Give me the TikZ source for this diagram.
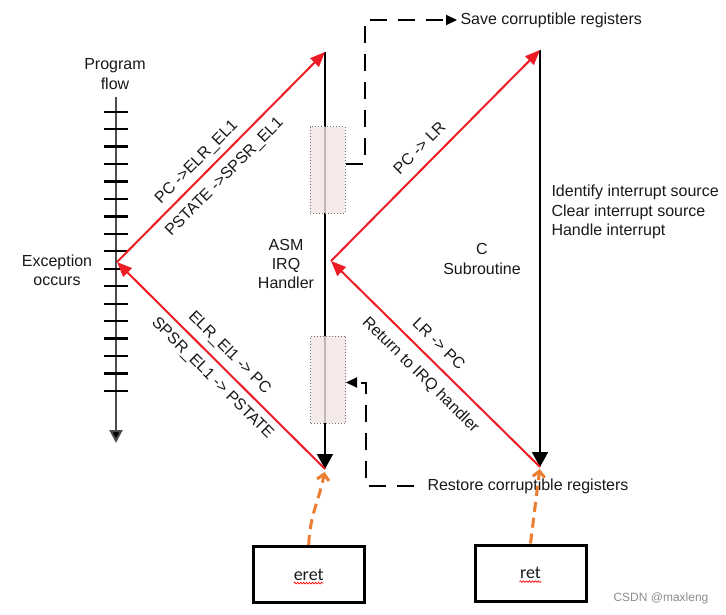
\documentclass[tikz,border=0pt]{standalone}
\usepackage{fontspec}
\setmainfont{Liberation Sans}
\newfontfamily\boxfont{Carlito}
\usetikzlibrary{calc,arrows.meta,positioning,decorations.pathmorphing}
\definecolor{FlowRed}{RGB}{237,28,36}
\definecolor{HintOrange}{RGB}{237,125,49}
\definecolor{StackPink}{RGB}{243,228,228}

\begin{document}
\begin{tikzpicture}[x=1pt,y=-1pt, line cap=butt,
	   every node/.style={font=\fontsize{16}{19.3}\selectfont, text=black!90},
	   flow/.style={draw=FlowRed, line width=2pt,
	                -{Triangle[length=15pt,width=12pt,fill=FlowRed]}},
	   handler/.style={draw=black, line width=2pt,
	                -{Triangle[length=15pt,width=16pt]}},
	   lbl/.style={sloped, inner sep=0pt},
	   stackbox/.style={draw=black!55, dotted, line width=1pt, fill=StackPink,
	                fill opacity=.8, minimum width=35pt, minimum height=86pt},
	   regline/.style={draw=black, line width=2pt, dash pattern=on 17pt off 11pt,
	                -{Triangle[length=11pt,width=10pt]}},
	   hint/.style={draw=HintOrange, line width=3pt, dash pattern=on 10pt off 6pt,
	                -{Straight Barb[length=6pt,width=12pt]}},
	   insn/.style={draw=black, line width=3pt, minimum width=111pt,
	                minimum height=56pt, font=\boxfont\fontsize{18}{20}\selectfont},
	   squiggle/.style={draw=red, line width=.7pt,
	                decorate, decoration={snake,amplitude=.8pt,segment length=3pt}}]
	\useasboundingbox (0,0) rectangle (726,615);

	%% Program flow axis
	\draw[black!70, line width=2pt, -{Triangle[length=13pt,width=13pt,fill=black]}]
	     (116,97) -- (116,443);
	\foreach \i in {0,...,16}
		\draw[black, line width=2.2pt] (104,{111.7+17.45*\i}) -- ++(24,0);
	\node[align=center] (pflow) at (115,74) {Program\\flow};
	\node[align=center] (excocc) at (57,270) {Exception\\occurs};

	%% Corner points
	\coordinate (exc) at (117,262);
	\coordinate (asmtop) at (325,52);
	\coordinate (asmbot) at (325,469);
	\coordinate (cvert) at (331,261);
	\coordinate (ctop) at (540,50);
	\coordinate (cbot) at (540,467);

	%% Handlers
	\draw[handler] (asmtop) -- (asmbot);
	\draw[handler] (ctop) -- (cbot);
	\node[stackbox] (savebox) at (327.5,170) {};
	\node[stackbox, minimum height=87pt] (restorebox) at (328,379.5) {};
	\node[align=center] (asm) at (286,264) {ASM\\IRQ\\Handler};
	\node[align=center] (csub) at (482,259) {C\\Subroutine};
	\node[align=left, anchor=west] (cwork) at (548,212)
	     {Identify interrupt source\\Clear interrupt source\\Handle interrupt};

	%% Exception entry and return
	\draw[flow] (exc) -- (asmtop)
	     node[lbl, pos=.43, yshift=13.5pt] {PC ->ELR\_EL1}
	     node[lbl, pos=.46, yshift=-17pt] {PSTATE ->SPSR\_EL1};
	\draw[flow] (asmbot) -- (exc)
	     node[lbl, pos=.51, yshift=15pt] {ELR\_El1 -> PC}
	     node[lbl, pos=.49, yshift=-15.5pt] {SPSR\_EL1 -> PSTATE};
	%% Call and return of C code
	\draw[flow] (cvert) -- (ctop)
	     node[lbl, pos=.48, yshift=17pt] {PC -> LR};
	\draw[flow] (cbot) -- (cvert)
	     node[lbl, pos=.54, yshift=17pt] {LR -> PC}
	     node[lbl, pos=.51, yshift=-18.5pt] {Return to IRQ handler};

	%% Registers
	\node[anchor=west] (savetxt) at (457,20) {Save corruptible registers};
	\node[anchor=west] (restoretxt) at (424,486) {Restore corruptible registers};
	\draw[regline] ([yshift=6pt]savebox.east) -- ++(19,0) |- (savetxt.west);
	\draw[regline, shorten <=10pt] (restoretxt.west) -| ($(restorebox.east)+(20,3)$)
	     -- ([yshift=-3pt]restorebox.east);

	%% Instructions
	\node[insn] (eret) at (308.7,574.5) {eret};
	\node[insn] (ret) at (530.5,573) {ret};
	\draw[squiggle] ([xshift=-15pt,yshift=-3pt]eret.base) -- ++(30,0);
	\draw[squiggle] ([xshift=-11pt,yshift=-3pt]ret.base) -- ++(22,0);
	\draw[hint, shorten >=3pt] (eret.north) to[out=88,in=-100] (asmbot);
	\draw[hint, shorten >=2pt] (ret.north) -- (cbot);

	\node[font=\fontsize{12}{14}\selectfont, text=black!45] (mark) at (661,598)
	     {CSDN @maxleng};
\end{tikzpicture}
\end{document}
